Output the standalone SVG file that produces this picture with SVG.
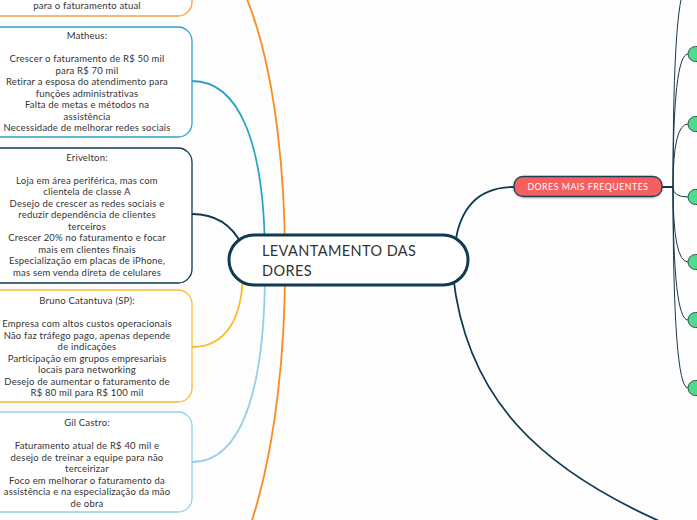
<svg xmlns="http://www.w3.org/2000/svg" width="697" height="520" viewBox="0 0 697 520">
<style>
.bg{fill:#fdfdfd}
.box{fill:#ffffff;stroke-width:1.3}
.t{font-family:Lato,"Liberation Sans",sans-serif;font-size:9.5px;fill:#333333;text-anchor:middle;letter-spacing:0.2px}
.ct{font-family:Lato,"Liberation Sans",sans-serif;font-size:14.5px;fill:#333333;letter-spacing:0.4px}
.c{fill:none;stroke-width:1.8;stroke-linecap:round}
.thin{fill:none;stroke:#17394d;stroke-width:1}
.green{fill:#4ddc8c;stroke:#2c5850;stroke-width:1}
</style>
<defs>
<filter id="sh" x="-10%" y="-30%" width="120%" height="180%">
<feDropShadow dx="0" dy="1" stdDeviation="1" flood-color="#000" flood-opacity="0.25"/>
</filter>
</defs>
<rect class="bg" x="0" y="0" width="697" height="520"/>
<g id="connectors">
<path class="c" stroke="#f78d1f" d="M192,-60 C245,-60 285,80 285,260"/>
<path class="c" stroke="#2ba3c8" d="M192,81 C238,81 265,140 265,260"/>
<path class="c" stroke="#0f3a50" d="M192,214 C215,214 232,225 242,245"/>
<path class="c" stroke="#fbbb2a" d="M192,347 C225,347 243,320 243,270"/>
<path class="c" stroke="#93cfea" d="M192,462 C245,462 265,380 265,270"/>
<path class="c" stroke="#f78d1f" d="M285,270 C285,440 245,600 192,600"/>
<path class="c" stroke="#0f3a50" d="M455,245 C460,205 480,187 514,187"/>
<path class="c" stroke="#0f3a50" d="M453,275 C466,395 535,470 680,530"/>
<path class="c" stroke="#0f3a50" d="M662,187 L673,187"/>
<path class="thin" stroke-width="1.5" d="M673,187 Q673,-15 688,-15"/>
<path class="thin" d="M673,187 Q673,54 688,54"/>
<path class="thin" d="M673,187 Q673,124 688,124"/>
<path class="thin" d="M673,187 Q673,197 688,197"/>
<path class="thin" d="M673,187 Q673,262 688,262"/>
<path class="thin" d="M673,187 Q673,320 688,320"/>
<path class="thin" stroke-width="1.5" d="M673,187 Q673,388 688,388"/>
</g>
<g id="node-top">
<rect class="box" stroke="#f7a040" x="-18" y="-80" width="210" height="96" rx="14"/>
<text class="t" x="87" y="9">para o faturamento atual</text>
</g>
<g id="node-matheus">
<rect class="box" stroke="#2ba3c8" x="-18" y="27" width="210" height="110" rx="14"/>
<text class="t" x="87" y="39">Matheus:</text>
<text class="t" x="87" y="62.3">Crescer o faturamento de R$ 50 mil</text>
<text class="t" x="87" y="73.8">para R$ 70 mil</text>
<text class="t" x="87" y="85.3">Retirar a esposa do atendimento para</text>
<text class="t" x="87" y="96.8">funções administrativas</text>
<text class="t" x="87" y="108.3">Falta de metas e métodos na</text>
<text class="t" x="87" y="119.8">assistência</text>
<text class="t" x="87" y="131.3">Necessidade de melhorar redes sociais</text>
</g>
<g id="node-erivelton">
<rect class="box" stroke="#0f3a50" x="-18" y="148" width="210" height="135" rx="14"/>
<text class="t" x="87" y="160.5">Erivelton:</text>
<text class="t" x="87" y="183.5">Loja em área periférica, mas com</text>
<text class="t" x="87" y="195">clientela de classe A</text>
<text class="t" x="87" y="206.5">Desejo de crescer as redes sociais e</text>
<text class="t" x="87" y="218">reduzir dependência de clientes</text>
<text class="t" x="87" y="229.5">terceiros</text>
<text class="t" x="87" y="241">Crescer 20% no faturamento e focar</text>
<text class="t" x="87" y="252.5">mais em clientes finais</text>
<text class="t" x="87" y="264">Especialização em placas de iPhone,</text>
<text class="t" x="87" y="275.5">mas sem venda direta de celulares</text>
</g>
<g id="node-bruno">
<rect class="box" stroke="#fbbb2a" x="-18" y="290" width="210" height="112" rx="14"/>
<text class="t" x="87" y="304">Bruno Catantuva (SP):</text>
<text class="t" x="87" y="327">Empresa com altos custos operacionais</text>
<text class="t" x="87" y="338.5">Não faz tráfego pago, apenas depende</text>
<text class="t" x="87" y="350">de indicações</text>
<text class="t" x="87" y="361.5">Participação em grupos empresariais</text>
<text class="t" x="87" y="373">locais para networking</text>
<text class="t" x="87" y="384.5">Desejo de aumentar o faturamento de</text>
<text class="t" x="87" y="396">R$ 80 mil para R$ 100 mil</text>
</g>
<g id="node-gil">
<rect class="box" stroke="#93cfea" x="-18" y="412" width="210" height="100" rx="14"/>
<text class="t" x="87" y="426">Gil Castro:</text>
<text class="t" x="87" y="449">Faturamento atual de R$ 40 mil e</text>
<text class="t" x="87" y="460.5">desejo de treinar a equipe para não</text>
<text class="t" x="87" y="472">terceirizar</text>
<text class="t" x="87" y="483.5">Foco em melhorar o faturamento da</text>
<text class="t" x="87" y="495">assistência e na especialização da mão</text>
<text class="t" x="87" y="506.5">de obra</text>
</g>
<g id="node-root">
<rect x="229" y="235" width="239" height="50" rx="25" fill="#ffffff" stroke="#0f3a50" stroke-width="3"/>
<text class="ct" x="262" y="256">LEVANTAMENTO DAS</text>
<text class="ct" x="262" y="276">DORES</text>
</g>
<g id="node-dores">
<rect x="514" y="176.5" width="148" height="20" rx="9" fill="#f65e5e" stroke="#1c3f52" stroke-width="1.3" filter="url(#sh)"/>
<text x="588" y="190" font-family="Lato,'Liberation Sans',sans-serif" font-size="8.8" fill="#ffffff" text-anchor="middle" letter-spacing="0.5">DORES MAIS FREQUENTES</text>
</g>
<g id="node-g1"><rect class="green" x="688" y="46.5" width="30" height="15" rx="7.5"/></g>
<g id="node-g2"><rect class="green" x="688" y="116.5" width="30" height="15" rx="7.5"/></g>
<g id="node-g3"><rect class="green" x="688" y="189.5" width="30" height="15" rx="7.5"/></g>
<g id="node-g4"><rect class="green" x="688" y="254.5" width="30" height="15" rx="7.5"/></g>
<g id="node-g5"><rect class="green" x="688" y="312.5" width="30" height="15" rx="7.5"/></g>
<g id="node-g6"><rect class="green" x="688" y="380.5" width="30" height="15" rx="7.5"/></g>
</svg>
